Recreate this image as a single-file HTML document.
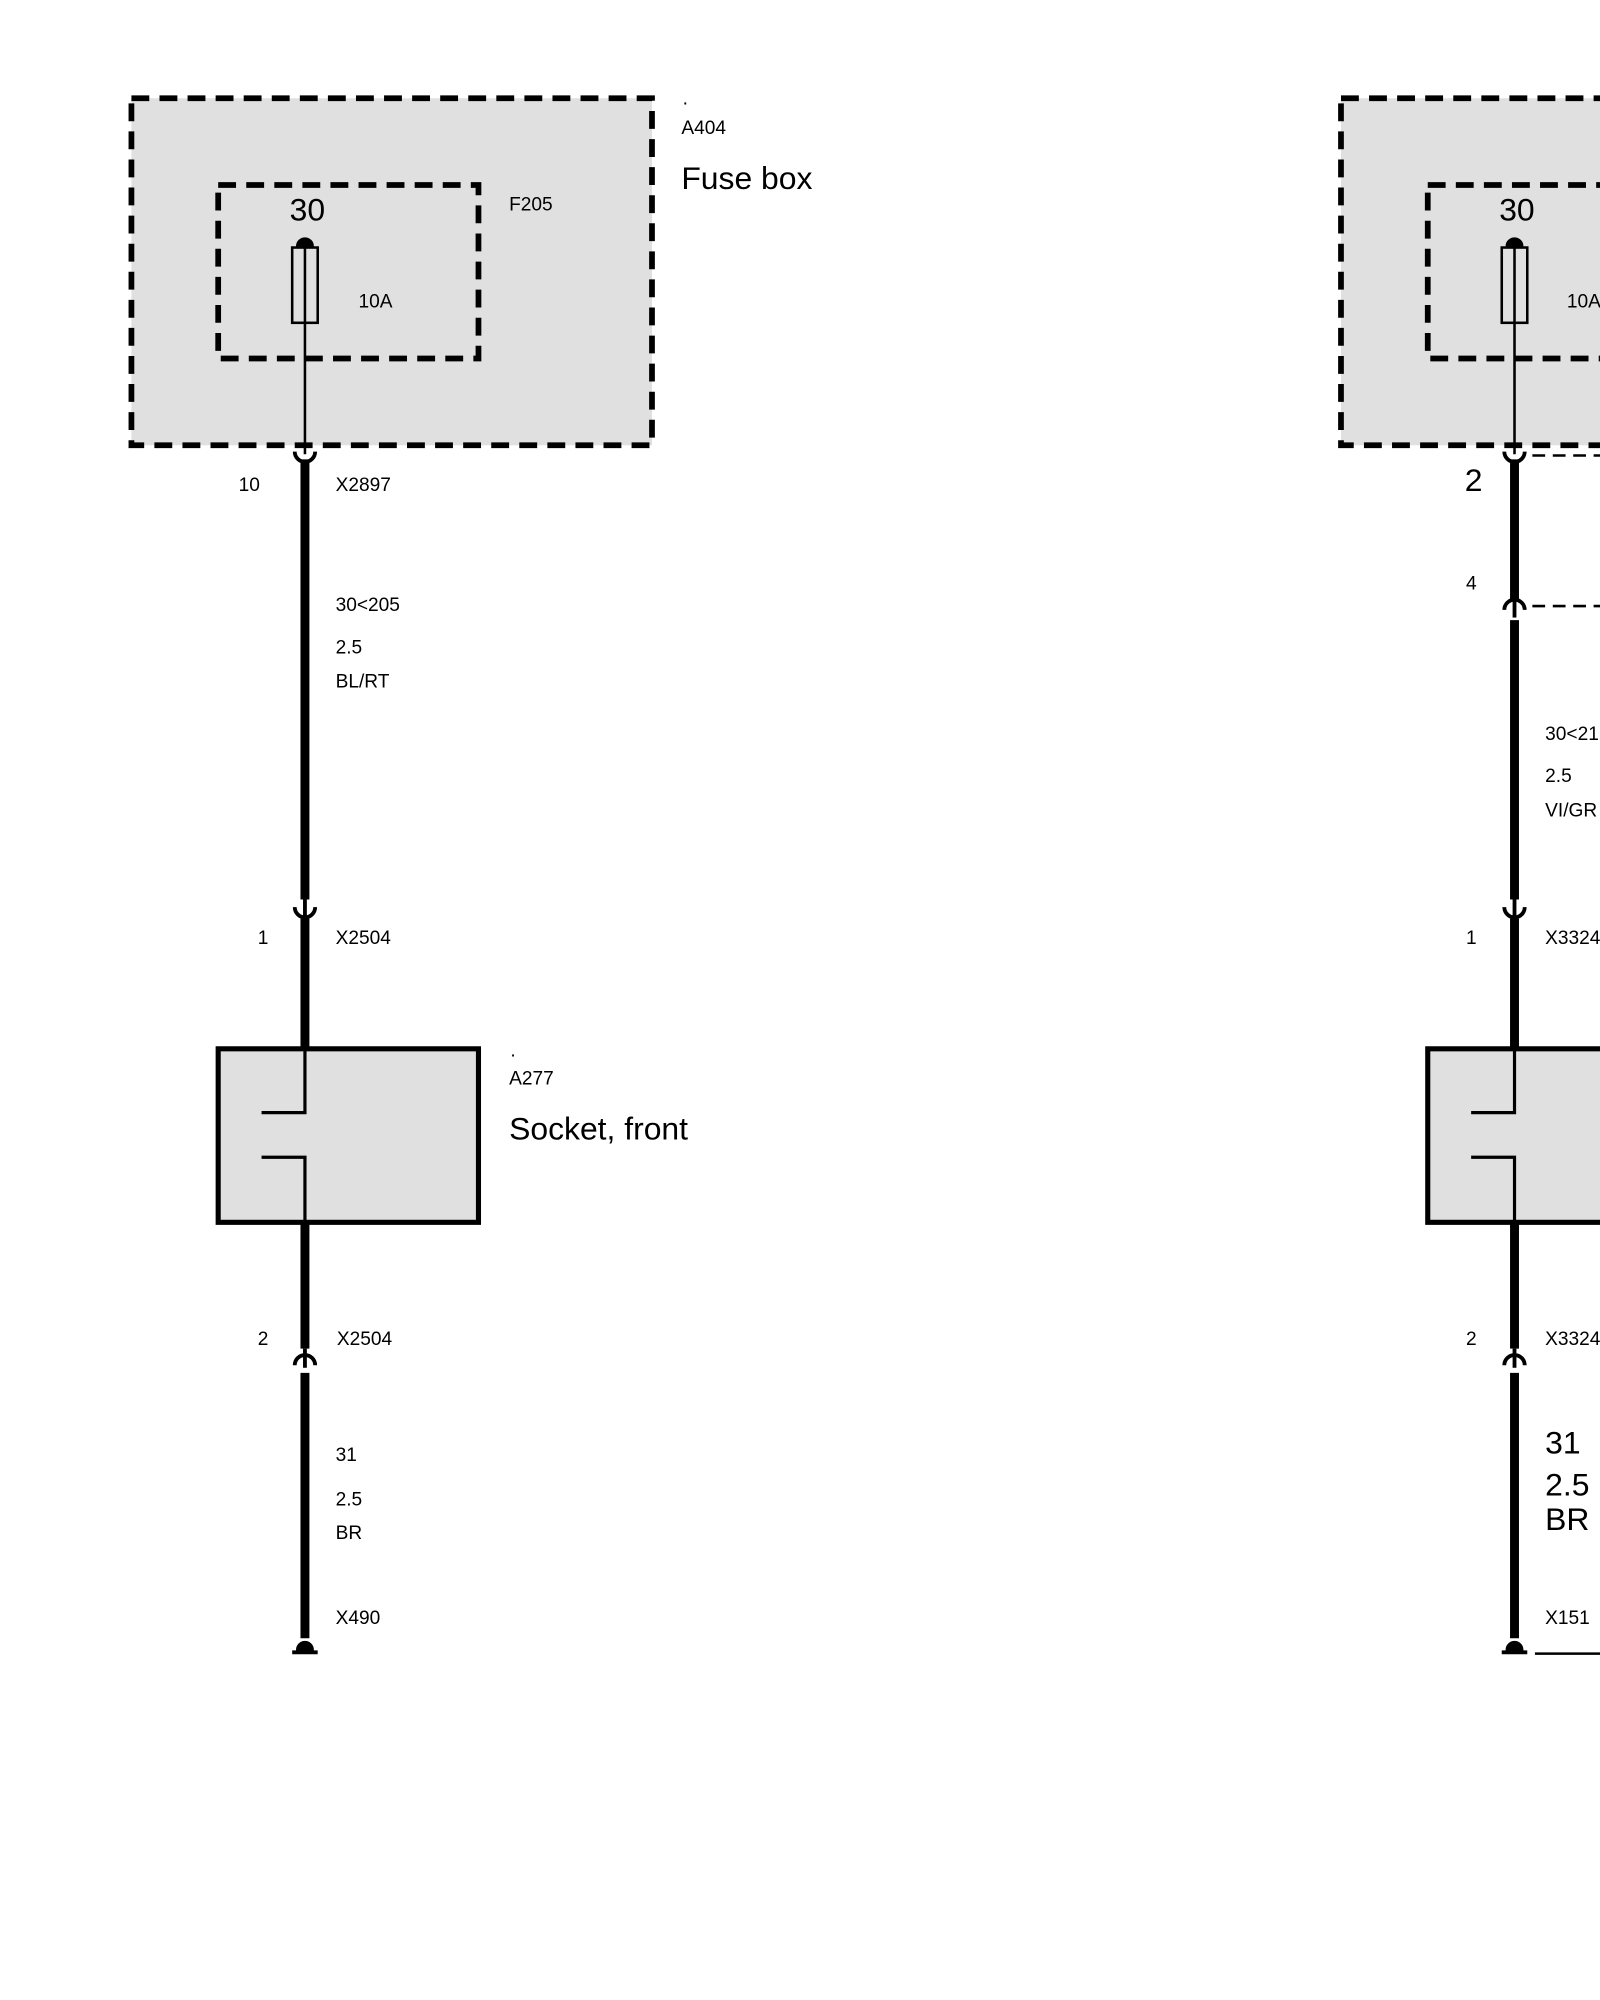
<!DOCTYPE html>
<html><head><meta charset="utf-8"><style>
html,body{margin:0;padding:0;background:#fff;}
svg{display:block;}
text{font-family:"Liberation Sans",Arial,sans-serif;fill:#000;}
.s{font-size:15px;}
.b{font-size:25px;}
</style></head><body>
<svg width="1600" height="2000" viewBox="0 0 1254 1567.5" xmlns="http://www.w3.org/2000/svg">
<defs>
<g id="col">
  <rect x="103" y="77" width="408" height="272" fill="#e0e0e0" stroke="#000" stroke-width="4.5" stroke-dasharray="14,8"/>
  <rect x="171" y="145" width="204" height="136" fill="none" stroke="#000" stroke-width="4.5" stroke-dasharray="14,8"/>
  <path d="M233,193 A6,6 0 0 1 245,193 Z" fill="#000" stroke="#000" stroke-width="2"/>
  <rect x="229" y="194" width="20" height="59" fill="none" stroke="#000" stroke-width="2"/>
  <line x1="239" y1="188" x2="239" y2="356" stroke="#000" stroke-width="2"/>
  <line x1="239" y1="720" x2="239" y2="822" stroke="#000" stroke-width="7"/>
  <line x1="239" y1="958" x2="239" y2="1057" stroke="#000" stroke-width="7"/>
  <rect x="171" y="822" width="204" height="136" fill="#e0e0e0" stroke="#000" stroke-width="4"/>
  <path d="M239,822 V872 H205 M205,907 H239 V958" fill="none" stroke="#000" stroke-width="2.5"/>
  <path d="M231,711 A8,8 0 0 0 247,711" fill="none" stroke="#000" stroke-width="3"/>
  <line x1="239" y1="1057" x2="239" y2="1063" stroke="#000" stroke-width="3"/>
  <path d="M231,1070 A8,8 0 0 1 247,1070" fill="none" stroke="#000" stroke-width="3"/>
  <line x1="239" y1="1063" x2="239" y2="1072" stroke="#000" stroke-width="3"/>
  <line x1="239" y1="1076" x2="239" y2="1284" stroke="#000" stroke-width="7"/>
  <path d="M233,1293 A6,6 0 0 1 245,1293 Z" fill="#000" stroke="#000" stroke-width="2"/>
  <line x1="229" y1="1295" x2="249" y2="1295" stroke="#000" stroke-width="3"/>
  <text class="b" x="227" y="173">30</text>
</g>
</defs>

<use href="#col"/>
<use href="#col" x="948"/>

<path d="M231,354 A8,8 0 0 0 247,354" fill="none" stroke="#000" stroke-width="3"/>
<line x1="239" y1="360" x2="239" y2="705" stroke="#000" stroke-width="7"/>
<line x1="239" y1="705" x2="239" y2="718" stroke="#000" stroke-width="3"/>

<path d="M1179,354 A8,8 0 0 0 1195,354" fill="none" stroke="#000" stroke-width="3"/>
<line x1="1201" y1="357" x2="1254" y2="357" stroke="#000" stroke-width="2" stroke-dasharray="10,6"/>
<line x1="1187" y1="360" x2="1187" y2="470" stroke="#000" stroke-width="7"/>
<path d="M1179,478 A8,8 0 0 1 1195,478" fill="none" stroke="#000" stroke-width="3"/>
<line x1="1201" y1="475" x2="1254" y2="475" stroke="#000" stroke-width="2" stroke-dasharray="10,6"/>
<line x1="1187" y1="470" x2="1187" y2="484" stroke="#000" stroke-width="3"/>
<line x1="1187" y1="486" x2="1187" y2="705" stroke="#000" stroke-width="7"/>
<line x1="1187" y1="705" x2="1187" y2="718" stroke="#000" stroke-width="3"/>
<line x1="1203" y1="1296" x2="1254" y2="1296" stroke="#000" stroke-width="2"/>

<text class="s" x="535" y="82">.</text>
<text class="s" x="534" y="105">A404</text>
<text class="b" x="534" y="148">Fuse box</text>
<text class="s" x="399" y="165">F205</text>
<text class="s" x="281" y="241">10A</text>
<text class="s" x="187" y="385">10</text>
<text class="s" x="263" y="385">X2897</text>
<text class="s" x="263" y="479">30&lt;205</text>
<text class="s" x="263" y="512">2.5</text>
<text class="s" x="263" y="539">BL/RT</text>
<text class="s" x="202" y="740">1</text>
<text class="s" x="263" y="740">X2504</text>
<text class="s" x="400" y="828">.</text>
<text class="s" x="399" y="850">A277</text>
<text class="b" x="399" y="893">Socket, front</text>
<text class="s" x="202" y="1054">2</text>
<text class="s" x="264" y="1054">X2504</text>
<text class="s" x="263" y="1145">31</text>
<text class="s" x="263" y="1180">2.5</text>
<text class="s" x="263" y="1206">BR</text>
<text class="s" x="263" y="1273">X490</text>

<text class="s" x="1228" y="241">10A</text>
<text class="b" x="1148" y="385">2</text>
<text class="s" x="1149" y="462">4</text>
<text class="s" x="1211" y="580">30&lt;21</text>
<text class="s" x="1211" y="613">2.5</text>
<text class="s" x="1211" y="640">VI/GR</text>
<text class="s" x="1149" y="740">1</text>
<text class="s" x="1211" y="740">X3324</text>
<text class="s" x="1149" y="1054">2</text>
<text class="s" x="1211" y="1054">X3324</text>
<text class="b" x="1211" y="1139">31</text>
<text class="b" x="1211" y="1172">2.5</text>
<text class="b" x="1211" y="1199">BR</text>
<text class="s" x="1211" y="1273">X151</text>
</svg>
</body></html>
